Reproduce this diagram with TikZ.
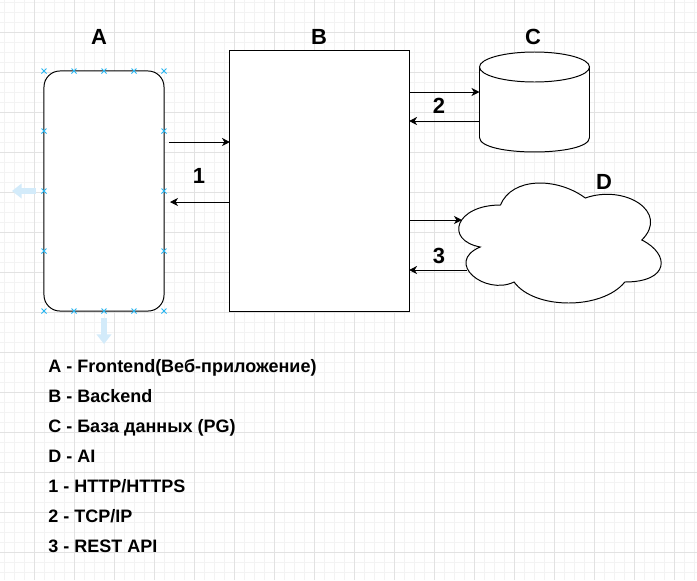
\documentclass[tikz,border=0pt]{standalone}
\usepackage{fontspec}
\setmainfont{Liberation Sans}
\usetikzlibrary{arrows.meta}
\definecolor{gridminor}{HTML}{F3F3F3}
\definecolor{gridmajor}{HTML}{E2E2E2}
\definecolor{handleblue}{HTML}{29B6F2}
\definecolor{hintblue}{HTML}{D3EBFA}

\begin{document}
\begin{tikzpicture}[x=0.025cm, y=-0.025cm,
		box/.style = {draw, line width=0.7pt, fill=white, inner sep=0pt, outer sep=0pt},
		link/.style = {line width=0.7pt, -{Stealth[length=2mm, width=2mm, inset=0.6mm]}},
		title/.style = {font=\bfseries\fontsize{15.6}{18}\selectfont, anchor=base, inner sep=0pt},
		legend/.style = {font=\bfseries\fontsize{12.8}{15}\selectfont, anchor=base west, inner sep=0pt},
		handle/.style = {draw=handleblue, line width=0.7pt},
		hint/.style = {draw=hintblue, line width=1.4mm, -{Triangle[length=2.4mm, width=3.6mm]}}]
	\useasboundingbox[fill=white] (0,0) rectangle (697,580);

	% grid
	\foreach \x in {4.5,14.5,...,697} \draw[gridminor, line width=0.7pt] (\x,0) -- (\x,580);
	\foreach \y in {2,12,...,580} \draw[gridminor, line width=0.7pt] (0,\y) -- (697,\y);
	\foreach \x in {34.5,74.5,...,697} \draw[gridmajor, line width=0.7pt] (\x,0) -- (\x,580);
	\foreach \y in {32,72,...,580} \draw[gridmajor, line width=0.7pt] (0,\y) -- (697,\y);

	% blocks
	\node[box, rounded corners=0.4cm, minimum width=3cm, minimum height=6cm] (A) at (104,191) {};
	\node[box, minimum width=4.475cm, minimum height=6.5cm] (B) at (319.5,181) {};

	% database
	\draw[box] (479.5,67) -- (479.5,137.5)
		.. controls (479.5,156.8) and (589.5,156.8) .. (589.5,137.5) -- (589.5,67);
	\draw[box] (534.5,67) ellipse [x radius=55, y radius=15];
	\node[inner sep=0pt, outer sep=0pt, minimum width=2.75cm, minimum height=2.5cm] (C) at (534.5,102) {};

	% cloud
	\draw[box] (500.5,205) .. controls (455.3,205) and (444,240) .. (480.2,247)
		.. controls (444,262.4) and (484.7,296) .. (514.1,282)
		.. controls (534.4,310) and (602.2,310) .. (624.8,282)
		.. controls (670,282) and (670,254) .. (641.8,240)
		.. controls (670,212) and (624.8,184) .. (585.3,198)
		.. controls (557,177) and (511.8,177) .. (500.5,205) -- cycle;

	% selection handles
	\foreach \x in {44,74,...,164} {
		\draw[handle] (\x-2.5,68.5) -- (\x+2.5,73.5) (\x-2.5,73.5) -- (\x+2.5,68.5);
		\draw[handle] (\x-2.5,308.5) -- (\x+2.5,313.5) (\x-2.5,313.5) -- (\x+2.5,308.5);
	}
	\foreach \y in {131,191,251} {
		\draw[handle] (41.5,\y-2.5) -- (46.5,\y+2.5) (41.5,\y+2.5) -- (46.5,\y-2.5);
		\draw[handle] (161.5,\y-2.5) -- (166.5,\y+2.5) (161.5,\y+2.5) -- (166.5,\y-2.5);
	}
	\draw[hint] (36,191) -- (12,191);
	\draw[hint] (104,318) -- (104,344);

	% connectors
	\coordinate (a1) at (169,142);
	\coordinate (a2) at (170,202);
	\coordinate (c1) at (479.5,92);
	\coordinate (c2) at (479.5,121);
	\coordinate (d1) at (462,220);
	\coordinate (d2) at (467,270);
	\draw[link] (a1) -- (a1 -| B.west);
	\draw[link] (a2 -| B.west) -- (a2);
	\draw[link] (c1 -| B.east) -- (c1);
	\draw[link] (c2) -- (c2 -| B.east);
	\draw[link] (d1 -| B.east) -- (d1);
	\draw[link] (d2) -- (d2 -| B.east);

	% labels
	\node[title] (tA) at (99,44) {A};
	\node[title] (tB) at (319,44) {B};
	\node[title] (tC) at (533,44) {C};
	\node[title] (tD) at (604,189) {D};
	\node[title] (t1) at (199,183) {1};
	\node[title] (t2) at (439,113) {2};
	\node[title] (t3) at (439,263) {3};

	% legend
	\node[legend] (l1) at (48,372) {A - Frontend(Веб-приложение)};
	\node[legend] (l2) at (48,402) {B - Backend};
	\node[legend] (l3) at (48,432) {C - База данных (PG)};
	\node[legend] (l4) at (48,462) {D - AI};
	\node[legend] (l5) at (48,492) {1 - HTTP/HTTPS};
	\node[legend] (l6) at (48,522) {2 - TCP/IP};
	\node[legend] (l7) at (48,552) {3 - REST API};
\end{tikzpicture}
\end{document}
